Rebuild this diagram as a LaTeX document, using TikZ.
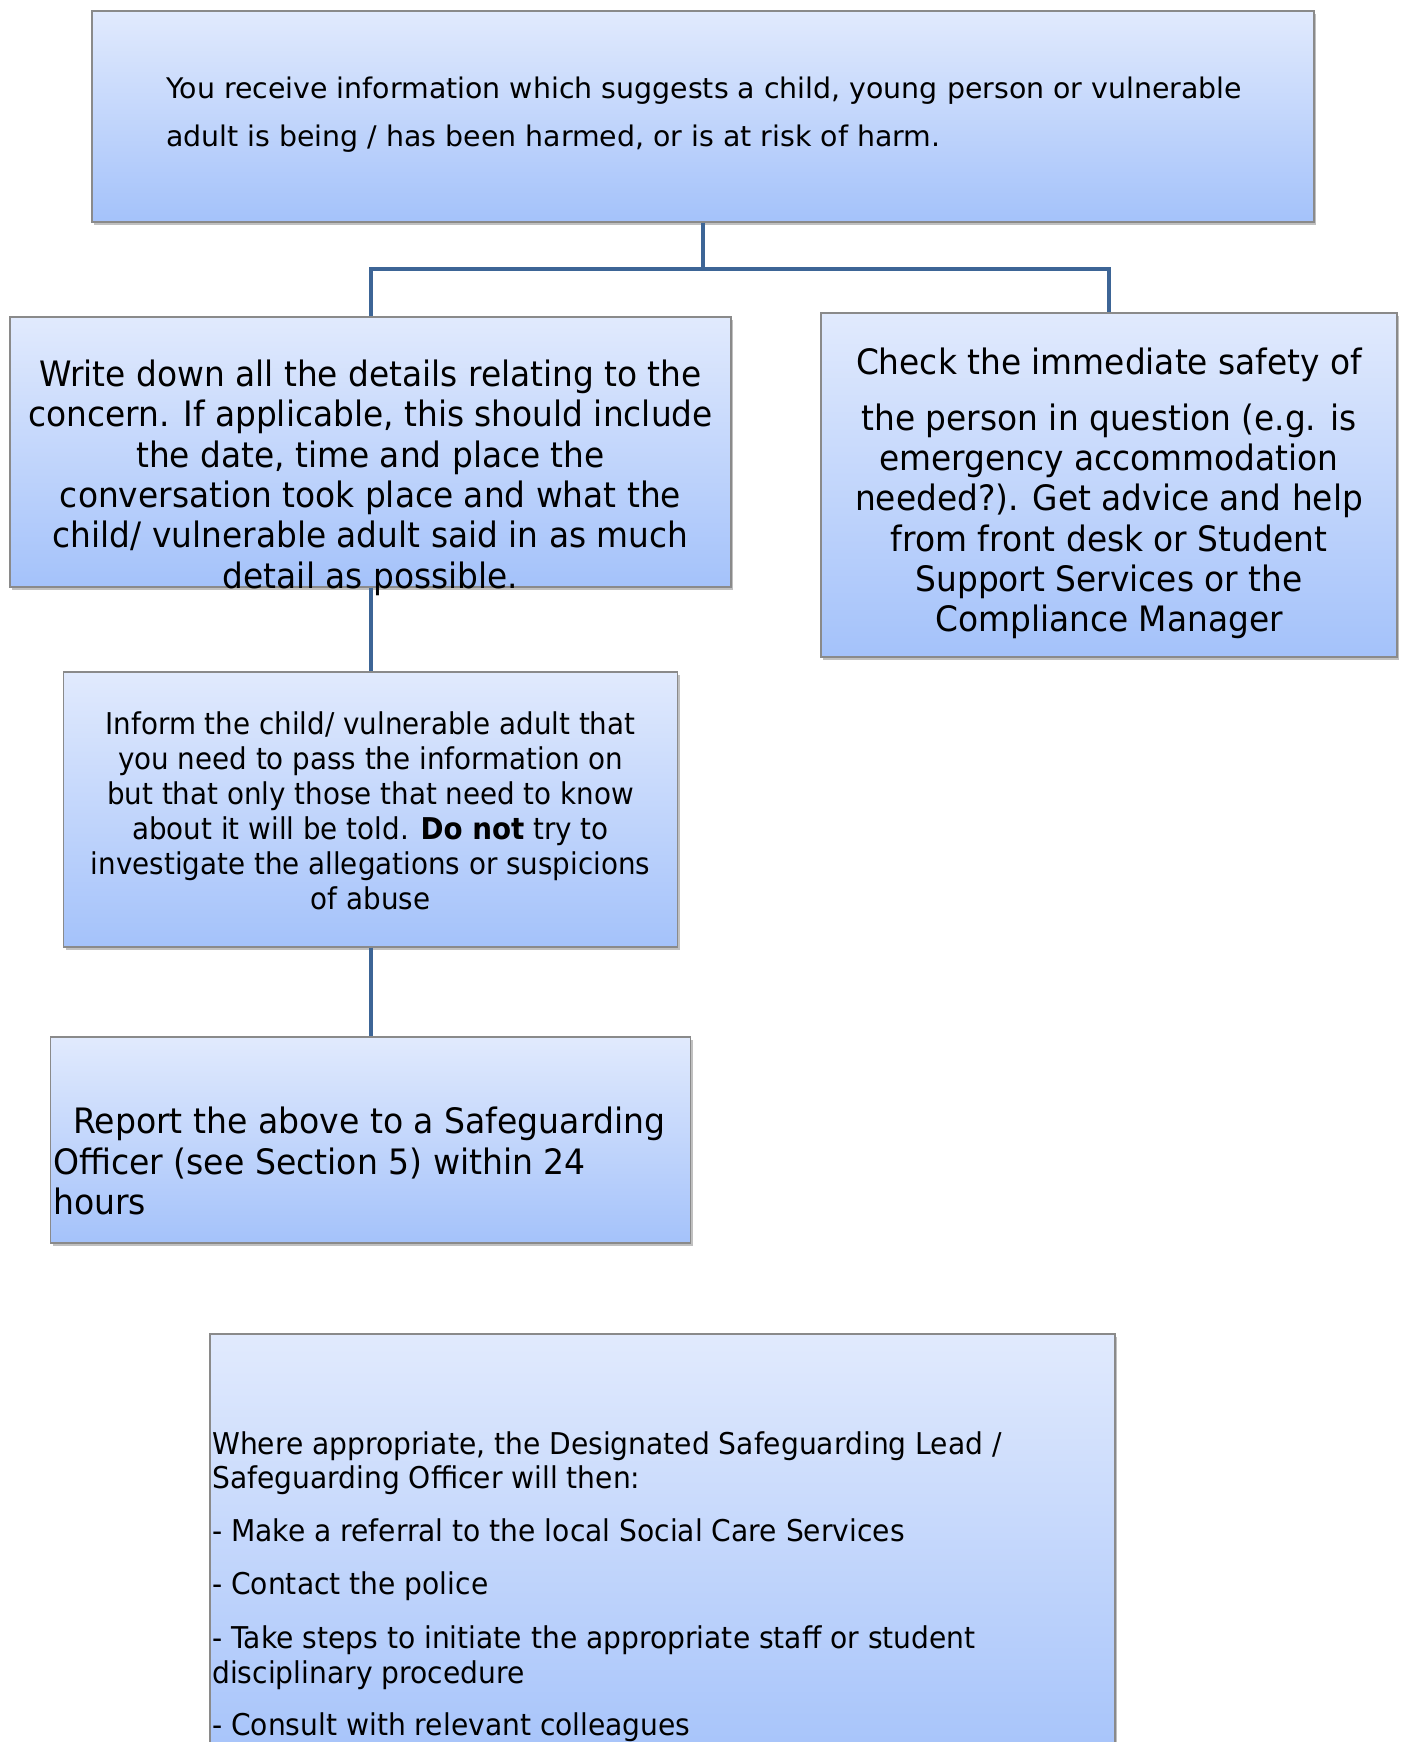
\documentclass[tikz,border=0pt]{standalone}
\usepackage{fontspec}
\setmainfont{DejaVu Sans}
\newfontfamily\tahoma[FakeStretch=0.945]{DejaVu Sans}
\newfontfamily\tahomam[FakeStretch=0.938]{DejaVu Sans}
\newfontfamily\tahomas[FakeStretch=0.925]{DejaVu Sans}
\usetikzlibrary{shadows}
\definecolor{boxtop}{RGB}{225,234,253}
\definecolor{boxbot}{RGB}{164,194,250}
\definecolor{boxline}{RGB}{138,138,138}
\definecolor{connblue}{RGB}{61,101,150}
\tikzset{
  flowbox/.style={rectangle, draw=boxline, line width=1.3pt, top color=boxtop, bottom color=boxbot,
    inner sep=0pt, drop shadow={shadow xshift=2pt, shadow yshift=-3pt, opacity=0.35, fill=black!70}},
  conn/.style={draw=connblue, line width=4pt},
  txt/.style={inner sep=0pt, text=black}
}
\begin{document}
\begin{tikzpicture}[x=1pt,y=-1pt]
\clip (0,0) rectangle (1401,1742);
\fill[white] (0,0) rectangle (1401,1742);
% boxes
\node[flowbox, minimum width=1222pt, minimum height=211pt] (top) at (703,116.5) {};
\node[flowbox, minimum width=721pt, minimum height=270pt] (write) at (370.5,452) {};
\node[flowbox, minimum width=576pt, minimum height=344pt] (check) at (1109,485) {};
\node[flowbox, minimum width=614pt, minimum height=275pt] (inform) at (370.5,809.5) {};
\node[flowbox, minimum width=640pt, minimum height=206pt] (report) at (370.5,1140) {};
\node[flowbox, minimum width=905pt, minimum height=440pt] (where) at (662.5,1554) {};
% connectors
\coordinate (jn) at (703,269);
\draw[conn] (top.south) -- (jn);
\draw[conn] (write.north) -- (write.north |- jn) -- (check.north |- jn) -- (check.north);
\draw[conn] (write.south) -- (inform.north);
\draw[conn] (inform.south) -- (report.north);
% texts
\node[txt, anchor=north west, align=left, font=\fontsize{28.4}{48}\selectfont] (ttop) at (166,76.5)
  {You receive information which suggests a child, young person or vulnerable\\
   adult is being / has been harmed, or is at risk of harm.};
\node[txt, anchor=north, align=center, font=\tahomam\fontsize{35}{40.4}\selectfont] (twrite) at (370.5,359.5)
  {Write down all the details relating to the\\
   concern. If applicable, this should include\\
   the date, time and place the\\
   conversation took place and what the\\
   child/ vulnerable adult said in as much\\
   detail as possible.};
\node[txt, anchor=north, align=center, font=\tahomam\fontsize{35}{40.3}\selectfont] (tcheck) at (1109,347.5)
  {Check the immediate safety of\\[15.7pt]
   the person in question (e.g. is\\
   emergency accommodation\\
   needed?). Get advice and help\\
   from front desk or Student\\
   Support Services or the\\
   Compliance Manager};
\node[txt, anchor=north, align=center, font=\tahomas\fontsize{30}{35}\selectfont] (tinform) at (370.5,711.5)
  {Inform the child/ vulnerable adult that\\
   you need to pass the information on\\
   but that only those that need to know\\
   about it will be told. \textbf{Do not} try to\\
   investigate the allegations or suspicions\\
   of abuse};
\node[txt, anchor=north west, align=left, font=\tahoma\fontsize{35}{40.5}\selectfont] (treport) at (53,1107)
  {\hspace*{20pt}Report the above to a Safeguarding\\
   Officer (see Section 5) within 24\\
   hours};
\node[txt, anchor=north west, align=left, font=\tahomam\fontsize{30}{34.4}\selectfont] (twhere) at (212,1431.5)
  {Where appropriate, the Designated Safeguarding Lead /\\
   Safeguarding Officer will then:\\[18.6pt]
   - Make a referral to the local Social Care Services\\[18.6pt]
   - Contact the police\\[19.6pt]
   - Take steps to initiate the appropriate staff or student\\
   disciplinary procedure\\[17.6pt]
   - Consult with relevant colleagues};
\end{tikzpicture}
\end{document}
